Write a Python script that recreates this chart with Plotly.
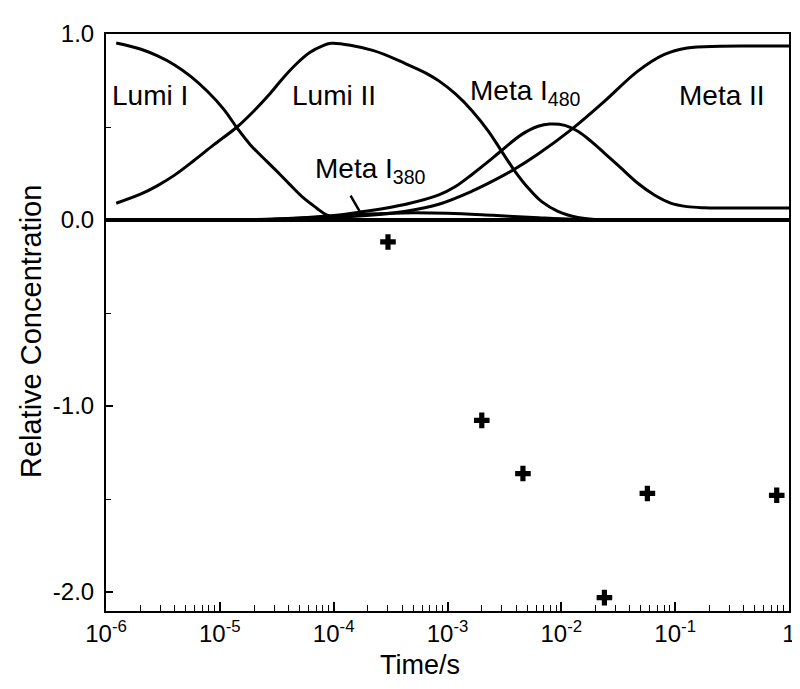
import plotly.graph_objects as go

# ---- data ----
lumi1_t = [1.230e-6, 2.032e-6, 2.838e-6, 3.972e-6, 5.546e-6, 7.762e-6, 1.084e-5, 1.416e-5, 1.849e-5,
           2.588e-5, 3.381e-5, 4.130e-5, 5.395e-5, 7.063e-5, 8.630e-5, 1.127e-4, 2.0e-4, 1.0e-3,
           1.0e-2, 1.0e-1, 1.0]
lumi1_y = [0.952, 0.918, 0.882, 0.835, 0.772, 0.692, 0.595, 0.495, 0.405,
           0.315, 0.245, 0.190, 0.120, 0.065, 0.028, 0.007, 0.002, 0.0,
           0.0, 0.0, 0.0]

lumi2_t = [1.230e-6, 2.032e-6, 2.838e-6, 3.972e-6, 5.929e-6, 8.872e-6, 1.416e-5, 1.982e-5, 2.767e-5,
           3.614e-5, 4.721e-5, 6.166e-5, 8.072e-5, 9.528e-5, 2.203e-4, 4.305e-4, 6.457e-4, 8.395e-4,
           1.175e-3, 1.641e-3, 2.291e-3, 2.992e-3, 3.917e-3, 5.117e-3, 6.683e-3, 9.333e-3, 1.396e-2,
           1.995e-2, 3.162e-2, 0.1, 1.0]
lumi2_y = [0.09, 0.14, 0.185, 0.24, 0.32, 0.405, 0.50, 0.585, 0.68,
           0.765, 0.84, 0.90, 0.937, 0.950, 0.912, 0.840, 0.790, 0.748,
           0.678, 0.588, 0.477, 0.369, 0.262, 0.172, 0.10, 0.047, 0.014,
           0.003, 0.0, 0.0, 0.0]

meta480_t = [1.0e-6, 1.0e-5, 3.162e-5, 1.0e-4, 1.687e-4, 4.305e-4, 8.395e-4, 1.175e-3, 1.641e-3,
             2.291e-3, 2.897e-3, 4.467e-3, 6.252e-3, 7.907e-3, 1.072e-2, 1.396e-2, 1.828e-2,
             2.388e-2, 3.334e-2, 4.667e-2, 6.516e-2, 9.120e-2, 0.1274, 0.1778, 0.3162, 1.0]
meta480_y = [0.0, 0.001, 0.005, 0.024, 0.042, 0.085, 0.135, 0.180, 0.245,
             0.315, 0.367, 0.459, 0.504, 0.516, 0.509, 0.477, 0.423,
             0.36, 0.28, 0.199, 0.136, 0.091, 0.072, 0.066, 0.065, 0.065]

meta2_t = [1.0e-6, 1.0e-5, 3.162e-5, 1.0e-4, 2.512e-4, 4.305e-4, 8.395e-4, 1.641e-3, 2.512e-3,
           3.802e-3, 6.252e-3, 1.222e-2, 2.388e-2, 4.667e-2, 7.962e-2, 0.1274, 0.2483, 0.5012, 1.0]
meta2_y = [0.0, 0.001, 0.004, 0.014, 0.03, 0.047, 0.085, 0.155, 0.21,
           0.27, 0.355, 0.486, 0.638, 0.799, 0.889, 0.925, 0.934, 0.935, 0.935]

meta380_t = [1.0e-6, 1.0e-5, 3.162e-5, 1.0e-4, 1.995e-4, 3.981e-4, 1.0e-3, 2.512e-3, 6.310e-3,
             1.259e-2, 3.162e-2, 0.1, 1.0]
meta380_y = [0.0, 0.001, 0.005, 0.02, 0.032, 0.038, 0.036, 0.025, 0.012,
             0.004, 0.0, 0.0, 0.0]

cross_t = [3.0e-4, 2.0e-3, 4.6e-3, 0.0239, 0.057, 0.78]
cross_y = [-0.118, -1.077, -1.363, -2.03, -1.47, -1.48]

x_tickvals = [1e-6, 1e-5, 1e-4, 1e-3, 1e-2, 1e-1, 1]
x_ticktext = ["10<sup>-6</sup>", "10<sup>-5</sup>", "10<sup>-4</sup>", "10<sup>-3</sup>",
              "10<sup>-2</sup>", "10<sup>-1</sup>", "1"]
x_minor = [m * 10.0 ** e for e in range(-6, 0) for m in range(2, 10)]
y_tickvals = [1.0, 0.0, -1.0, -2.0]
y_ticktext = ["1.0", "0.0", "-1.0", "-2.0"]
y_minor = [0.5, -0.5, -1.5]

FONT = "Liberation Sans, Arial, Helvetica, sans-serif"
LW = 3

fig = go.Figure()
for t, y in [(meta380_t, meta380_y), (meta2_t, meta2_y), (meta480_t, meta480_y),
             (lumi1_t, lumi1_y), (lumi2_t, lumi2_y)]:
    fig.add_trace(go.Scatter(x=t, y=y, mode="lines",
                             line=dict(color="black", width=LW, shape="spline", smoothing=1.0),
                             showlegend=False, hoverinfo="skip"))

fig.add_trace(go.Scatter(x=cross_t, y=cross_y, mode="markers",
                         marker=dict(symbol="cross", size=13, color="black"),
                         showlegend=False))

ann_font = dict(family=FONT, size=28, color="black")
annotations = [
    dict(x=-5.612, y=0.667, text="Lumi I", showarrow=False, font=ann_font),
    dict(x=-4.0, y=0.667, text="Lumi II", showarrow=False, font=ann_font),
    dict(x=-0.586, y=0.672, text="Meta II", showarrow=False, font=ann_font),
    dict(x=-2.818, y=0.672, text="Meta I<sub>480</sub>", showarrow=False, font=ann_font,
         xanchor="left", yanchor="top", yshift=22),
    dict(x=-4.178, y=0.253, text="Meta I<sub>380</sub>", showarrow=False, font=ann_font,
         xanchor="left", yanchor="top", yshift=22),
    dict(x=-3.768, y=0.043, text=" ", showarrow=True, arrowhead=0, arrowwidth=2.5,
         arrowcolor="black", ax=-14, ay=-24, standoff=0, startstandoff=0),
    dict(xref="paper", yref="paper", x=-0.1105, y=0.4844, text="Relative Concentration",
         textangle=-90, showarrow=False, font=dict(family=FONT, size=29, color="black"),
         xanchor="center", yanchor="middle"),
    dict(xref="paper", yref="paper", x=0.46, y=-0.0936, text="Time/s",
         showarrow=False, font=dict(family=FONT, size=27, color="black"),
         xanchor="center", yanchor="middle"),
]

fig.update_layout(
    width=800, height=689,
    margin=dict(l=98, r=14, t=26, b=86),
    paper_bgcolor="white", plot_bgcolor="white",
    font=dict(family=FONT, size=23, color="black"),
    annotations=annotations,
    xaxis=dict(
        type="log", range=[-6, 0],
        tickmode="array", tickvals=x_tickvals, ticktext=x_ticktext,
        ticks="inside", ticklen=9, tickwidth=1.5, tickcolor="black",
        minor=dict(tickmode="array", tickvals=x_minor, ticks="inside", ticklen=6,
                   tickwidth=1.2, tickcolor="black"),
        showline=True, linecolor="black", linewidth=2, mirror=True,
        showgrid=False, zeroline=False,
        tickfont=dict(size=24),
    ),
    yaxis=dict(
        range=[-2.102, 1.0],
        tickmode="array", tickvals=y_tickvals, ticktext=y_ticktext,
        ticks="inside", ticklen=7, tickwidth=1.5, tickcolor="black",
        minor=dict(tickmode="array", tickvals=y_minor, ticks="inside", ticklen=5,
                   tickwidth=1.2, tickcolor="black"),
        showline=True, linecolor="black", linewidth=2, mirror=True,
        showgrid=False, zeroline=True, zerolinecolor="black", zerolinewidth=3.5,
        tickfont=dict(size=24), ticklabelstandoff=5,
    ),
)

fig.write_html("out.html")
